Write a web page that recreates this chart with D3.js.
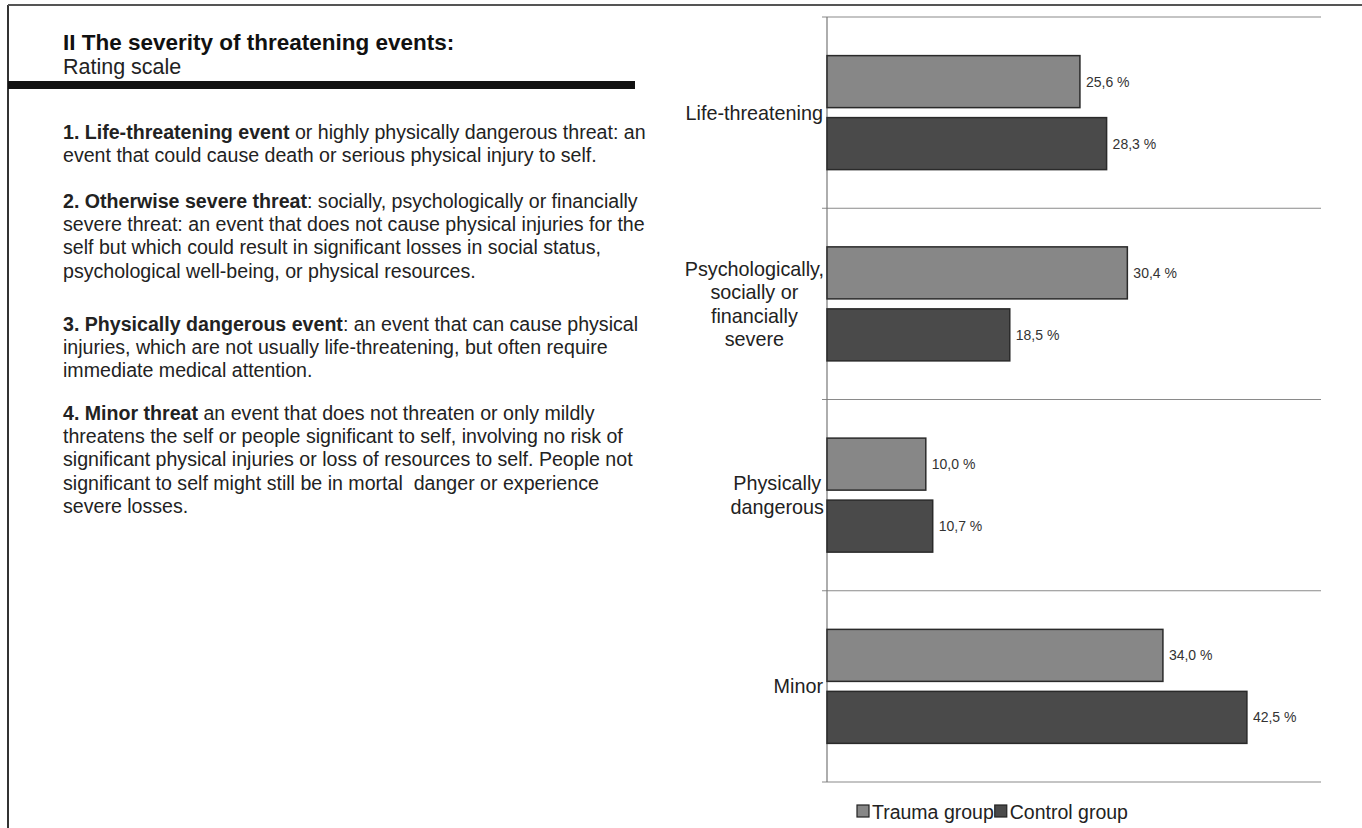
<!DOCTYPE html>
<html><head><meta charset="utf-8">
<script src="https://cdn.jsdelivr.net/npm/d3@7"></script>
<style>
html,body{margin:0;padding:0;background:#fff;}
svg{display:block;font-family:"Liberation Sans",Arial,Helvetica,sans-serif;}
</style></head>
<body>
<svg id="chart" width="1362" height="828"></svg>
<script>
// ---- data ----
const categories = ["Life-threatening", "Psychologically, socially or financially severe", "Physically dangerous", "Minor"];
const categoryLines = [["Life-threatening"], ["Psychologically,", "socially or", "financially", "severe"], ["Physically", "dangerous"], ["Minor"]];
const seriesNames = ["Trauma group", "Control group"];
const traumaValues = [25.6, 30.4, 10.0, 34.0];
const controlValues = [28.3, 18.5, 10.7, 42.5];
const valueLabelsTrauma = ["25,6 %", "30,4 %", "10,0 %", "34,0 %"];
const valueLabelsControl = ["28,3 %", "18,5 %", "10,7 %", "42,5 %"];

const titleText = "II The severity of threatening events:";
const subtitleText = "Rating scale";
const paragraphs = [
  [[["1. Life-threatening event", true], [" or highly physically dangerous threat: an", false]],
   [["event that could cause death or serious physical injury to self.", false]]],
  [[["2. Otherwise severe threat", true], [": socially, psychologically or financially", false]],
   [["severe threat: an event that does not cause physical injuries for the", false]],
   [["self but which could result in significant losses in social status,", false]],
   [["psychological well-being, or physical resources.", false]]],
  [[["3. Physically dangerous event", true], [": an event that can cause physical", false]],
   [["injuries, which are not usually life-threatening, but often require", false]],
   [["immediate medical attention.", false]]],
  [[["4. Minor threat", true], [" an event that does not threaten or only mildly", false]],
   [["threatens the self or people significant to self, involving no risk of", false]],
   [["significant physical injuries or loss of resources to self. People not", false]],
   [["significant to self might still be in mortal  danger or experience", false]],
   [["severe losses.", false]]]
];

const svg = d3.select("#chart");

// frame
svg.append("line").attr("x1", 8).attr("x2", 8).attr("y1", 5).attr("y2", 828).attr("stroke", "#333").attr("stroke-width", 2);
svg.append("line").attr("x1", 8).attr("x2", 1362).attr("y1", 5).attr("y2", 5).attr("stroke", "#555").attr("stroke-width", 2);
svg.append("rect").attr("x", 8).attr("y", 81).attr("width", 627).attr("height", 8).attr("fill", "#111");

// title
svg.append("text").attr("x", 63).attr("y", 50).attr("font-size", 22.5).attr("font-weight", "bold").attr("fill", "#111").text(titleText);
svg.append("text").attr("x", 63).attr("y", 74).attr("font-size", 21.5).attr("fill", "#222").text(subtitleText);

// paragraphs
const paraStarts = [139, 208, 331, 420];
const lineH = 23.2;
paragraphs.forEach((para, pi) => {
  para.forEach((line, li) => {
    const t = svg.append("text").attr("x", 63).attr("y", paraStarts[pi] + li * lineH)
      .attr("font-size", 19.6).attr("fill", "#222").attr("xml:space", "preserve").style("white-space", "pre");
    line.forEach(([s, b]) => {
      t.append("tspan").attr("font-weight", b ? "bold" : "normal").text(s);
    });
  });
});

// chart scales
const x = d3.scaleLinear().domain([0, 50]).range([827, 1321]);
const y = d3.scaleBand().domain(categories).range([17, 782]).padding(0);
const yInner = d3.scaleBand().domain(seriesNames).range([0, y.bandwidth()]).paddingInner(0.161).paddingOuter(0.623);
const colors = {"Trauma group": "#878787", "Control group": "#4a4a4a"};

// separators
const bounds = categories.map(c => y(c)).concat([y.range()[1]]);
svg.append("g").selectAll("line").data(bounds).join("line")
  .attr("x1", 822).attr("x2", x.range()[1]).attr("y1", d => d).attr("y2", d => d)
  .attr("stroke", "#8a8a8a").attr("stroke-width", 1.2);
svg.append("line").attr("x1", x(0)).attr("x2", x(0)).attr("y1", y.range()[0]).attr("y2", y.range()[1])
  .attr("stroke", "#777").attr("stroke-width", 1.2);

const rows = [];
categories.forEach((c, i) => {
  rows.push({cat: c, s: "Trauma group", v: traumaValues[i], lab: valueLabelsTrauma[i]});
  rows.push({cat: c, s: "Control group", v: controlValues[i], lab: valueLabelsControl[i]});
});

svg.append("g").selectAll("rect").data(rows).join("rect")
  .attr("x", x(0)).attr("y", d => y(d.cat) + yInner(d.s))
  .attr("width", d => x(d.v) - x(0)).attr("height", yInner.bandwidth())
  .attr("fill", d => colors[d.s]).attr("stroke", "#2a2a2a").attr("stroke-width", 1.5);

svg.append("g").selectAll("text").data(rows).join("text")
  .attr("x", d => x(d.v) + 6).attr("y", d => y(d.cat) + yInner(d.s) + yInner.bandwidth() / 2 + 5)
  .attr("font-size", 14).attr("fill", "#333").text(d => d.lab);

// category labels
const labelSize = 19.8;
categories.forEach((c, i) => {
  const lines = categoryLines[i];
  const cy = y(c) + y.bandwidth() / 2;
  const lh = 23.5;
  const g = svg.append("g");
  const t0 = cy - (lines.length - 1) * lh / 2 + 7;
  if (lines.length === 1) {
    g.append("text").attr("x", 823).attr("y", t0).attr("text-anchor", "end").attr("font-size", labelSize).attr("fill", "#222").text(lines[0]);
  } else {
    let w = 0;
    const texts = lines.map((l, k) => g.append("text").attr("y", t0 + k * lh).attr("font-size", labelSize).attr("fill", "#222").attr("text-anchor", "middle").text(l));
    texts.forEach(t => { w = Math.max(w, t.node().getComputedTextLength()); });
    texts.forEach(t => t.attr("x", 824 - w / 2));
  }
});

// legend
const leg = svg.append("g");
let lx = 857;
seriesNames.forEach(s => {
  leg.append("rect").attr("x", lx).attr("y", 805).attr("width", 12).attr("height", 12).attr("fill", colors[s]).attr("stroke", "#222").attr("stroke-width", 1.2);
  const t = leg.append("text").attr("x", lx + 15).attr("y", 819).attr("font-size", 19.5).attr("fill", "#222").text(s);
  lx += 15 + t.node().getComputedTextLength() + 1;
});
</script>
</body></html>
